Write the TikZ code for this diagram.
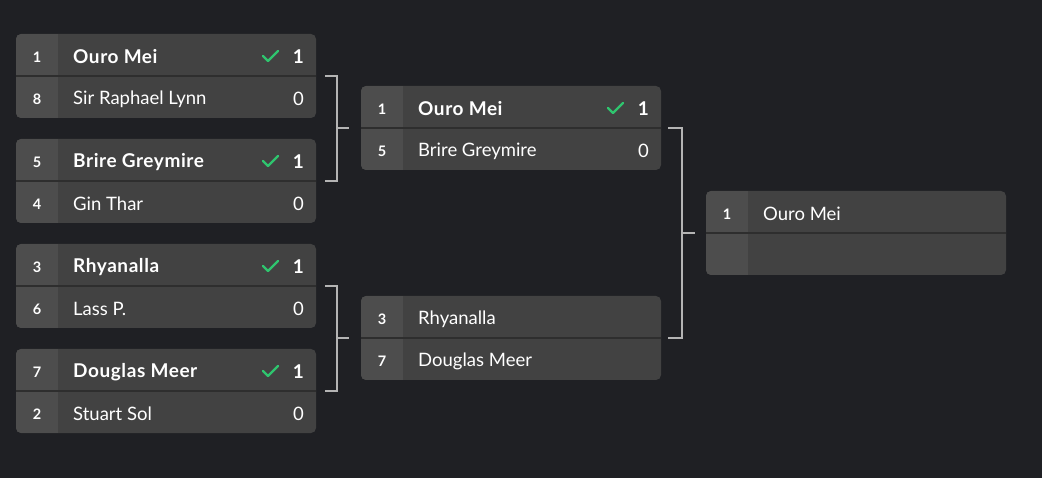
\documentclass[tikz,border=0pt]{standalone}
\usepackage{fontspec}
\setmainfont{Lato}
\definecolor{bgc}{HTML}{1F2024}
\definecolor{mainc}{HTML}{424242}
\definecolor{seedc}{HTML}{4D4D4D}
\definecolor{sepc}{HTML}{2E2E2E}
\definecolor{linec}{HTML}{B4B4B4}
\definecolor{checkc}{HTML}{2FC46E}
\tikzset{
  matchbox/.style={draw=none, fill=mainc, rounded corners=5pt, minimum width=300pt, minimum height=84pt, inner sep=0pt, outer sep=0pt},
  seedtxt/.style={text=white, font=\fontsize{14.5}{14}\selectfont\bfseries, inner sep=0pt},
  nametxt/.style={text=white, font=\fontsize{18.5}{18}\selectfont, anchor=west, inner sep=0pt},
  wintxt/.style={nametxt, font=\fontsize{19}{18}\selectfont\bfseries\addfontfeature{LetterSpace=3}},
  scoretxt/.style={text=white, font=\fontsize{18.5}{18}\selectfont, anchor=east, inner sep=0pt},
  winscore/.style={scoretxt, font=\fontsize{19}{18}\selectfont\bfseries},
  bracket/.style={draw=linec, line width=2pt},
  tick/.style={draw=checkc, line width=2.4pt, line cap=round, line join=round},
}
% #1 name, #2 x, #3 y top
\newcommand\drawmatchbg[3]{%
  \node[matchbox, anchor=north west] (#1) at (#2,#3) {};
  \begin{scope}
    \clip[rounded corners=5pt] (#1.north west) rectangle (#1.south east);
    \fill[seedc] (#1.north west) rectangle ([xshift=42pt]#1.south west);
  \end{scope}
  \draw[sepc, line width=1.2pt] (#1.west) -- (#1.east);
}
% #1 match, #2 row (a/b), #3 y offset, #4 seed, #5 name, #6 style
\newcommand\rowtext[6]{%
  \node[seedtxt] (#1#2s) at ([xshift=21pt, yshift=#3]#1.west) {#4};
  \node[#6] (#1#2n) at ([xshift=57pt, yshift=#3]#1.west) {#5};
}
\newcommand\winscoreat[1]{%
  \node[winscore] (#1ws) at ([xshift=-12pt, yshift=19pt]#1.east) {1};
  \draw[tick] ([xshift=-53pt, yshift=20pt]#1.east) -- ([xshift=-48pt, yshift=15pt]#1.east) -- ([xshift=-38pt, yshift=25pt]#1.east);
  \node[scoretxt] (#1ls) at ([xshift=-12pt, yshift=-23pt]#1.east) {0};
}
\begin{document}
\begin{tikzpicture}[x=1pt,y=-1pt]
\fill[bgc] (0,0) rectangle (1042,478);
\useasboundingbox (0,0) rectangle (1042,478);

% round 1
\drawmatchbg{m1}{16}{34}
\rowtext{m1}{a}{19pt}{1}{Ouro Mei}{wintxt}
\rowtext{m1}{b}{-23pt}{8}{Sir Raphael Lynn}{nametxt}
\winscoreat{m1}

\drawmatchbg{m2}{16}{139}
\rowtext{m2}{a}{19pt}{5}{Brire Greymire}{wintxt}
\rowtext{m2}{b}{-23pt}{4}{Gin Thar}{nametxt}
\winscoreat{m2}

\drawmatchbg{m3}{16}{244}
\rowtext{m3}{a}{19pt}{3}{Rhyanalla}{wintxt}
\rowtext{m3}{b}{-23pt}{6}{Lass P.}{nametxt}
\winscoreat{m3}

\drawmatchbg{m4}{16}{349}
\rowtext{m4}{a}{19pt}{7}{Douglas Meer}{wintxt}
\rowtext{m4}{b}{-23pt}{2}{Stuart Sol}{nametxt}
\winscoreat{m4}

% round 2
\drawmatchbg{s1}{361}{86}
\rowtext{s1}{a}{19pt}{1}{Ouro Mei}{wintxt}
\rowtext{s1}{b}{-23pt}{5}{Brire Greymire}{nametxt}
\winscoreat{s1}

\drawmatchbg{s2}{361}{296}
\rowtext{s2}{a}{19pt}{3}{Rhyanalla}{nametxt}
\rowtext{s2}{b}{-23pt}{7}{Douglas Meer}{nametxt}

% final
\drawmatchbg{f1}{706}{191}
\rowtext{f1}{a}{19pt}{1}{Ouro Mei}{nametxt}

% brackets
\draw[bracket] ([xshift=9pt]m1.east) -- ([xshift=21pt]m1.east) -- ([xshift=21pt]m2.east) -- ([xshift=9pt]m2.east);
\draw[bracket] ([xshift=-24pt]s1.west) -- ([xshift=-12pt]s1.west);
\draw[bracket] ([xshift=9pt]m3.east) -- ([xshift=21pt]m3.east) -- ([xshift=21pt]m4.east) -- ([xshift=9pt]m4.east);
\draw[bracket] ([xshift=-24pt]s2.west) -- ([xshift=-12pt]s2.west);
\draw[bracket] ([xshift=7pt]s1.east) -- ([xshift=21pt]s1.east) -- ([xshift=21pt]s2.east) -- ([xshift=7pt]s2.east);
\draw[bracket] ([xshift=-24pt]f1.west) -- ([xshift=-11pt]f1.west);
\end{tikzpicture}
\end{document}
